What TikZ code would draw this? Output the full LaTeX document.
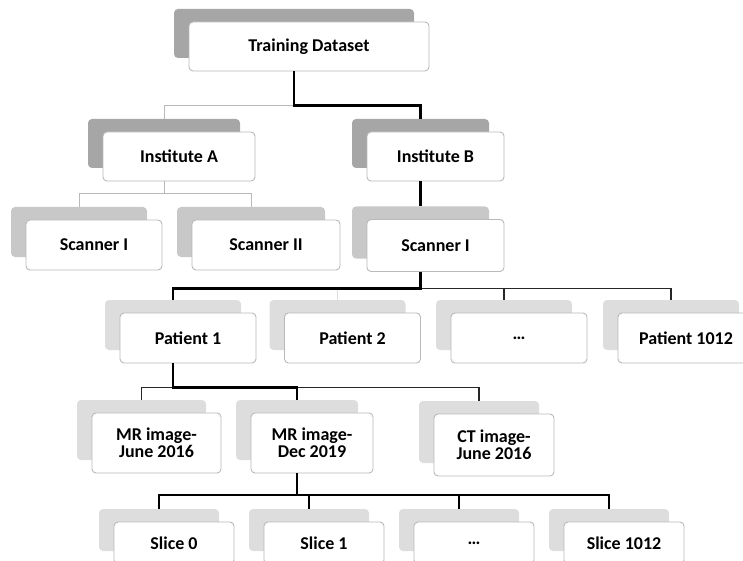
\documentclass[tikz,border=0pt]{standalone}
\usepackage{fontspec}
\setmainfont{Carlito}
\usetikzlibrary{shadows}
\definecolor{shadeDark}{HTML}{A6A6A6}
\definecolor{shadeMid}{HTML}{C8C8C8}
\definecolor{shadeLight}{HTML}{DDDDDD}
\tikzset{
    card/.style={draw=gray!55, line width=0.9pt, fill=white, rounded corners=4pt,
        align=center, text=black, inner sep=0pt,
        font=\fontsize{18}{17}\selectfont\bfseries},
    cardshade/.style={general shadow={fill=#1, shadow xshift=-15pt, shadow yshift=13pt}},
    hot/.style={line width=2.6pt, black},
    warm/.style={line width=2pt, black},
    cold/.style={line width=1.5pt, black!85},
    pale/.style={line width=1pt, gray!55},
    faint/.style={line width=1pt, gray!25}
}
\begin{document}
\begin{tikzpicture}[x=1pt, y=-1pt]
            \useasboundingbox (0,0) rectangle (743,561);
            \clip (0,0) rectangle (743,561);
            % top levels
            \node[card, cardshade=shadeDark, minimum width=240pt, minimum height=49pt] (train) at (309,46.5) {Training Dataset};
            \node[card, cardshade=shadeDark, minimum width=152pt, minimum height=49pt] (instA) at (179,156.5) {Institute A};
            \node[card, cardshade=shadeDark, minimum width=137pt, minimum height=49pt] (instB) at (435.5,156.5) {Institute B};
            \node[card, cardshade=shadeMid, minimum width=136pt, minimum height=50pt] (scanA1) at (94,245) {Scanner I};
            \node[card, cardshade=shadeMid, minimum width=148pt, minimum height=50pt] (scanA2) at (266,245) {Scanner II};
            \node[card, cardshade=shadeMid, minimum width=137pt, minimum height=52pt] (scanB) at (435.5,245.5) {Scanner I};
            
            % patients
            \foreach \pName/\pX/\pText in {pat1/188/Patient 1, pat2/352.5/Patient 2, pat3/519/\ldots, pat4/686/Patient 1012}
                \node[card, cardshade=shadeLight, minimum width=136pt, minimum height=50pt] (\pName) at (\pX,338) {\pText};
            
            % images
            \node[card, cardshade=shadeLight, minimum width=129pt, minimum height=60pt] (mr1) at (156.5,443) {MR image-\\June 2016};
            \node[card, cardshade=shadeLight, minimum width=122pt, minimum height=60pt] (mr2) at (312,443) {MR image-\\Dec 2019};
            \node[card, cardshade=shadeLight, minimum width=120pt, minimum height=62pt] (ct) at (494,445) {CT image-\\June 2016};
            
            % slices
            \foreach \sName/\sX/\sText in {slice0/174/Slice 0, slice1/324/Slice 1, slice2/474/\ldots, slice3/624/Slice 1012}
                \node[card, cardshade=shadeLight, minimum width=120pt, minimum height=42pt] (\sName) at (\sX,543) {\sText};
            
            % connectors
            \draw[pale] ([xshift=-15pt]train.south) -- ++(0,34) -| ([xshift=-15pt,yshift=13pt]instA.north);
            \draw[hot] ([xshift=-15pt]train.south) -- ++(0,34) -| ([xshift=-15pt,yshift=13pt]instB.north);
            \foreach \cName in {scanA1, scanA2}
                \draw[pale] ([xshift=-15pt]instA.south) -- ++(0,12) -| ([xshift=-15pt,yshift=13pt]\cName.north);
            \draw[hot] ([xshift=-15pt]instB.south) -- ([xshift=-15pt,yshift=13pt]scanB.north);
            
            \draw[faint] ([xshift=-15pt]scanB.south) -- ++(0,16.5) -| ([xshift=-15pt,yshift=13pt]pat2.north);
            \foreach \cName in {pat3, pat4}
                \draw[cold] ([xshift=-15pt]scanB.south) -- ++(0,16.5) -| ([xshift=-15pt,yshift=13pt]\cName.north);
            \draw[hot] ([xshift=-15pt]scanB.south) -- ++(0,16.5) -| ([xshift=-15pt,yshift=13pt]pat1.north);
            
            \foreach \cName in {mr1, ct}
                \draw[cold] ([xshift=-15pt]pat1.south) -- ++(0,24) -| ([xshift=-15pt,yshift=13pt]\cName.north);
            \draw[hot] ([xshift=-15pt]pat1.south) -- ++(0,24) -| ([xshift=-15pt,yshift=13pt]mr2.north);
            
            \foreach \cName in {slice0, slice1, slice2, slice3}
                \draw[warm] ([xshift=-15pt]mr2.south) -- ++(0,22) -| ([xshift=-15pt,yshift=13pt]\cName.north);
        \end{tikzpicture}
\end{document}
